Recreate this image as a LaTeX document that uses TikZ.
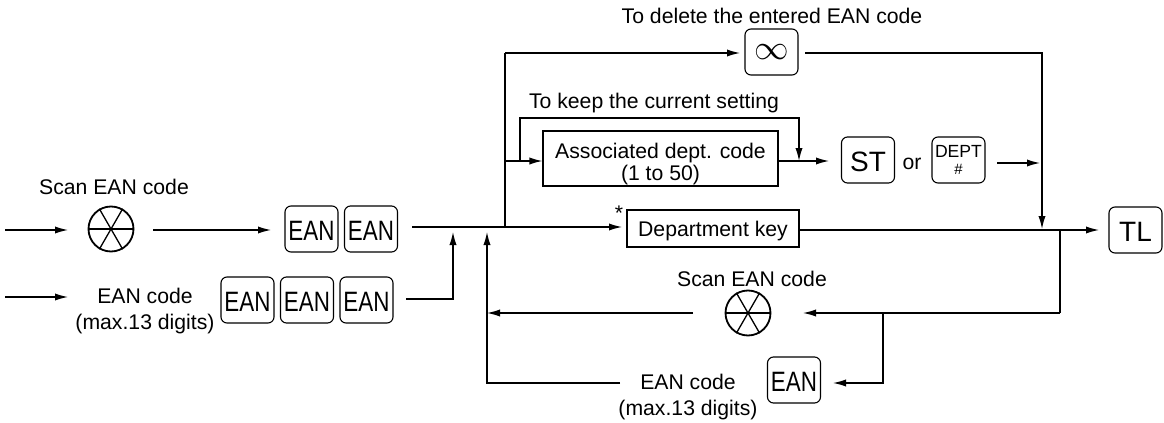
\documentclass[tikz,border=0pt]{standalone}
\usepackage{fontspec}
\setmainfont{Liberation Sans}
\usepackage{amsmath}
\usepackage{amssymb}
\usepackage{tikz}
\usetikzlibrary{arrows.meta}
\tikzset{
  flow/.style={line width=.65pt,-{Latex[length=6.5pt,width=3.6pt]}},
  wire/.style={line width=.65pt},
  keycap/.style={draw,line width=.55pt,rounded corners=3pt,minimum width=26.5pt,minimum height=23pt,inner sep=0pt},
  keytext/.style={keycap,font=\fontsize{14}{14}\selectfont,text height=11.5pt,text depth=0pt},
  codebox/.style={draw,line width=.55pt,inner sep=0pt,align=center,font=\fontsize{10.6}{11}\selectfont},
  caption/.style={inner sep=0pt,align=center,font=\fontsize{10.6}{13}\selectfont},
  scanner/.style={draw,circle,line width=.9pt,minimum size=22.5pt,inner sep=0pt},
}
\newcommand{\eankey}{\scalebox{.8}[1]{EAN}}
\newcommand{\scanspokes}[1]{
  \foreach \ang in {0,60,120} {
    \pgfmathsetmacro{\opp}{\ang+180}
    \draw[line width=.65pt] (#1.\ang) -- (#1.\opp);
  }
}
\begin{document}
\begin{tikzpicture}[x=.5pt,y=-.5pt]
  \useasboundingbox (0,0) rectangle (1164,423);

  \node[caption] (cdelete) at (772,16) {To delete the entered EAN code};
  \node[caption] (ckeep) at (654,103) {To keep the current setting};
  \node[caption] (cscana) at (114,187) {Scan EAN code};
  \node[caption] (cscanb) at (752,279) {Scan EAN code};
  \node[caption] (ccodea) at (145,311) {EAN code\\(max.13 digits)};
  \node[caption] (ccodeb) at (688,397) {EAN code\\(max.13 digits)};
  \node[caption] (cor) at (912,164) {or};
  \node[caption] (cstar) at (619,213) {*};

  \node[keycap,font=\fontsize{17}{17}\selectfont] (kclear) at (771.5,52) {$\infty$};
  \node[keytext] (kst) at (868,160) {ST};
  \node[keycap,align=center] (kdept) at (958.5,160) {\fontsize{8.8}{10}\selectfont DEPT\\[-3.5pt]\fontsize{7.5}{7.5}\selectfont\#};
  \node[keytext] (ktl) at (1135.5,230) {TL};
  \node[keytext] (kean1) at (311.5,229) {\eankey};
  \node[keytext] (kean2) at (371,229) {\eankey};
  \node[keytext] (kean3) at (247.5,300) {\eankey};
  \node[keytext] (kean4) at (307,300) {\eankey};
  \node[keytext] (kean5) at (366.5,300) {\eankey};
  \node[keytext] (kean6) at (794,380) {\eankey};

  \node[codebox,minimum width=117.5pt,minimum height=27.5pt] (bassoc) at (660.5,158.5) {\rule{0pt}{12.7pt}Associated dept. code\\(1 to 50)};
  \node[codebox,minimum width=86pt,minimum height=18.5pt] (bdept) at (713,228.5) {\rule{0pt}{10pt}Department key};

  \node[scanner] (sfirst) at (111,229) {};
  \node[scanner] (ssecond) at (748,313) {};
  \scanspokes{sfirst}
  \scanspokes{ssecond}

  \coordinate (astart) at (5,230);
  \coordinate (aend) at (68,230);
  \coordinate (aout) at (153,230);
  \coordinate (ain) at (271,230);
  \coordinate (bstart) at (5,297);
  \coordinate (bend) at (68,297);
  \coordinate (bout) at (406,299);
  \coordinate (bup) at (453,299);
  \coordinate (btip) at (453,232);
  \coordinate (mstart) at (412,227);
  \coordinate (mtip) at (622,227);
  \coordinate (branch) at (505,227);
  \coordinate (top) at (505,53);
  \coordinate (clearin) at (740,53);
  \coordinate (clearout) at (805,53);
  \coordinate (drop) at (1042,53);
  \coordinate (droptip) at (1042,229);
  \coordinate (associn) at (505,161);
  \coordinate (loopa) at (520,161);
  \coordinate (loopb) at (520,118);
  \coordinate (loopc) at (799,118);
  \coordinate (loopd) at (799,161);
  \coordinate (assocout) at (829,161);
  \coordinate (deptout) at (997,163);
  \coordinate (deptin) at (1040,163);
  \coordinate (tlfrom) at (799,230);
  \coordinate (tlin) at (1099,230);
  \coordinate (back) at (1060,230);
  \coordinate (backa) at (1060,313);
  \coordinate (backb) at (883,313);
  \coordinate (backc) at (883,383);
  \coordinate (scanin) at (803,313);
  \coordinate (scanout) at (693,313);
  \coordinate (returnb) at (487,313);
  \coordinate (codein) at (833,383);
  \coordinate (codeout) at (620,383);
  \coordinate (returna) at (487,383);
  \coordinate (returntip) at (487,232);

  \draw[flow] (astart) -- (aend);
  \draw[flow] (aout) -- (ain);
  \draw[flow] (bstart) -- (bend);
  \draw[flow] (bout) -- (bup) -- (btip);
  \draw[flow] (mstart) -- (mtip);
  \draw[wire] (branch) -- (top);
  \draw[flow] (top) -- (clearin);
  \draw[flow] (clearout) -- (drop) -- (droptip);
  \draw[flow] (associn) -- (bassoc.west |- associn);
  \draw[flow] (loopa) -- (loopb) -- (loopc) -- (loopd);
  \draw[flow] (bassoc.east |- assocout) -- (assocout);
  \draw[flow] (deptout) -- (deptin);
  \draw[flow] (tlfrom) -- (tlin);
  \draw[wire] (back) -- (backa);
  \draw[flow] (backa) -- (scanin);
  \draw[flow] (scanout) -- (returnb);
  \draw[flow] (backb) -- (backc) -- (codein);
  \draw[flow] (codeout) -- (returna) -- (returntip);
\end{tikzpicture}
\end{document}
